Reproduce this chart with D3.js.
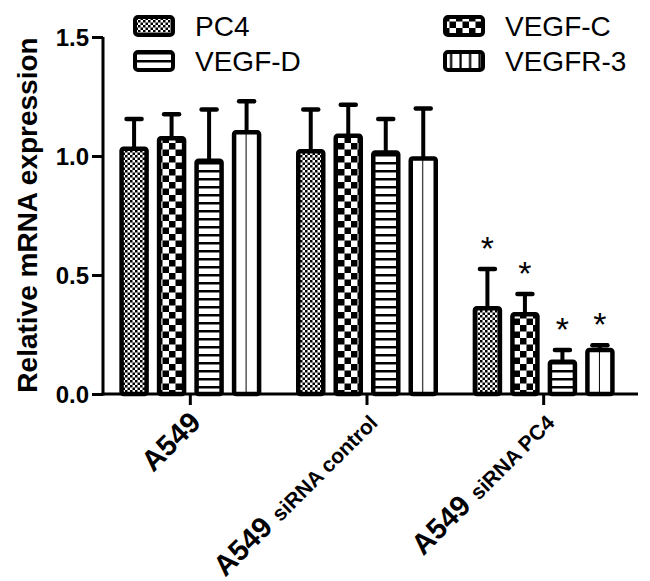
<!DOCTYPE html>
<html>
<head>
<meta charset="utf-8">
<script src="https://cdn.jsdelivr.net/npm/d3@7"></script>
<style>
    body { margin: 0; background: #fff; }
    text { font-family: "Liberation Sans", Arial, sans-serif; fill: #000; }
</style>
</head>
<body>
<div id="chart"></div>
<script>
var groupMain = ['A549', 'A549', 'A549'];
var groupSub = ['', 'siRNA control', 'siRNA PC4'];
var series = ['PC4', 'VEGF-C', 'VEGF-D', 'VEGFR-3'];

// mean and SD per group, in group order
var pc4 = [1.03, 1.02, 0.36];
var vegfc = [1.075, 1.085, 0.335];
var vegfd = [0.98, 1.015, 0.135];
var vegfr3 = [1.10, 0.99, 0.185];

var pc4Err = [0.125, 0.175, 0.165];
var vegfcErr = [0.10, 0.13, 0.085];
var vegfdErr = [0.215, 0.14, 0.05];
var vegfr3Err = [0.13, 0.21, 0.02];

var starred = [false, false, true];
var yTicks = [0, 0.5, 1.0, 1.5];

var means = [pc4, vegfc, vegfd, vegfr3];
var errs = [pc4Err, vegfcErr, vegfdErr, vegfr3Err];
var fills = ['url(#fine)', 'url(#check)', 'url(#hstripe)', 'url(#vstripe)'];
var legendFills = ['url(#fine)', 'url(#check)', 'url(#hstripe)', 'url(#vstripeLeg)'];

var width = 650, height = 581;

var svg = d3.select('#chart')
    .append('svg')
    .attr('width', width)
    .attr('height', height);

// patterns
var defs = svg.append('defs');

var p = defs.append('pattern').attr('id', 'fine')
    .attr('patternUnits', 'userSpaceOnUse').attr('width', 5).attr('height', 5);
p.append('rect').attr('width', 5).attr('height', 5).attr('fill', '#fff');
p.append('rect').attr('width', 2.5).attr('height', 2.5).attr('fill', '#000');
p.append('rect').attr('x', 2.5).attr('y', 2.5).attr('width', 2.5).attr('height', 2.5).attr('fill', '#000');

p = defs.append('pattern').attr('id', 'check')
    .attr('patternUnits', 'userSpaceOnUse').attr('width', 13).attr('height', 13);
p.append('rect').attr('width', 13).attr('height', 13).attr('fill', '#fff');
p.append('rect').attr('width', 6.5).attr('height', 6.5).attr('fill', '#000');
p.append('rect').attr('x', 6.5).attr('y', 6.5).attr('width', 6.5).attr('height', 6.5).attr('fill', '#000');

p = defs.append('pattern').attr('id', 'hstripe')
    .attr('patternUnits', 'userSpaceOnUse').attr('width', 8).attr('height', 8)
    .attr('y', 394);
p.append('rect').attr('width', 8).attr('height', 8).attr('fill', '#fff');
p.append('rect').attr('width', 8).attr('height', 2.5).attr('fill', '#000');

p = defs.append('pattern').attr('id', 'vstripe')
    .attr('patternUnits', 'objectBoundingBox')
    .attr('patternContentUnits', 'userSpaceOnUse')
    .attr('width', 0.5).attr('height', 1);
p.append('rect').attr('width', 20).attr('height', 600).attr('fill', '#fff');
p.append('rect').attr('x', 11.5).attr('width', 2.2).attr('height', 600).attr('fill', '#000');

p = defs.append('pattern').attr('id', 'vstripeLeg')
    .attr('patternUnits', 'userSpaceOnUse').attr('width', 9.5).attr('height', 40);
p.append('rect').attr('width', 9.5).attr('height', 40).attr('fill', '#fff');
p.append('rect').attr('x', 7).attr('width', 2.2).attr('height', 40).attr('fill', '#000');

// scales
var y = d3.scaleLinear().domain([0, 1.5]).range([394, 37]);

var x0 = d3.scaleBand()
    .domain(d3.range(groupMain.length))
    .range([102, 632]);

var x1 = d3.scaleBand()
    .domain(series)
    .range([-75, 75]);

var barW = 25;

// axes
var yAxis = d3.axisLeft(y)
    .tickValues(yTicks)
    .tickFormat(d3.format('.1f'))
    .tickSize(11)
    .tickSizeOuter(0)
    .tickPadding(3);

var gy = svg.append('g')
    .attr('transform', 'translate(103,0)')
    .call(yAxis);
gy.select('.domain').attr('stroke-width', 3).attr('d', 'M0,' + y(1.5) + 'V' + (y(0) + 1.5));
gy.selectAll('.tick line').attr('stroke-width', 3);
gy.selectAll('.tick text')
    .style('font-family', '"Liberation Sans", Arial, sans-serif')
    .style('font-size', '24px')
    .style('font-weight', 'bold')
    .attr('dy', '0.36em');

var xAxis = d3.axisBottom(x0)
    .tickSize(11)
    .tickSizeOuter(0)
    .tickFormat('');

var gx = svg.append('g')
    .attr('transform', 'translate(0,394)')
    .call(xAxis);
gx.select('.domain').attr('stroke-width', 3).attr('d', 'M101.5,0H638');
gx.selectAll('.tick line').attr('stroke-width', 3);

// bars
var rows = [];
groupMain.forEach(function(g, gi) {
    series.forEach(function(s, si) {
        rows.push({g: gi, s: s, si: si, v: means[si][gi], e: errs[si][gi]});
    });
});

function barX(d) {
    return x0(d.g) + x0.bandwidth() / 2 + x1(d.s) + x1.bandwidth() / 2;
}

var bars = svg.append('g').selectAll('.bar')
    .data(rows).enter()
    .append('g')
    .attr('class', 'bar');

bars.append('line')
    .attr('x1', barX).attr('x2', barX)
    .attr('y1', function(d) { return y(d.v); })
    .attr('y2', function(d) { return y(d.v + d.e); })
    .attr('stroke', '#000')
    .attr('stroke-width', 4);

bars.append('line')
    .attr('x1', function(d) { return barX(d) - 7.5; })
    .attr('x2', function(d) { return barX(d) + 7.5; })
    .attr('y1', function(d) { return y(d.v + d.e); })
    .attr('y2', function(d) { return y(d.v + d.e); })
    .attr('stroke', '#000')
    .attr('stroke-width', 4.5)
    .attr('stroke-linecap', 'round');

bars.append('rect')
    .attr('x', function(d) { return barX(d) - barW / 2; })
    .attr('y', function(d) { return y(d.v); })
    .attr('width', barW)
    .attr('height', function(d) { return y(0) - y(d.v); })
    .attr('rx', 2)
    .attr('fill', function(d) { return fills[d.si]; })
    .attr('stroke', '#000')
    .attr('stroke-width', 4.5);

bars.filter(function(d) { return starred[d.g]; })
    .append('text')
    .attr('x', barX)
    .attr('y', function(d) { return y(d.v + d.e) - 9; })
    .attr('text-anchor', 'middle')
    .style('font-size', '34px')
    .text('*');

// group labels
var labels = svg.append('g').selectAll('.glabel')
    .data(d3.range(groupMain.length)).enter()
    .append('text')
    .attr('class', 'glabel')
    .attr('transform', function(i) {
        return 'translate(' + (x0(i) + x0.bandwidth() / 2 + 12) + ',424) rotate(-45)';
    })
    .attr('text-anchor', 'end')
    .style('font-weight', 'bold');

labels.append('tspan')
    .style('font-size', '29px')
    .text(function(i) { return groupMain[i]; });

labels.append('tspan')
    .attr('dx', 9)
    .style('font-size', '21px')
    .text(function(i) { return groupSub[i]; });

// y title
svg.append('text')
    .attr('transform', 'translate(37,215) rotate(-90)')
    .attr('text-anchor', 'middle')
    .style('font-size', '28px')
    .style('font-weight', 'bold')
    .text('Relative mRNA expression');

// legend
var legend = svg.append('g').selectAll('.legend')
    .data(series).enter()
    .append('g')
    .attr('class', 'legend')
    .attr('transform', function(d, i) {
        return 'translate(' + (i % 2 ? 443 : 133) + ',' + (15 + Math.floor(i / 2) * 35) + ')';
    });

legend.append('rect')
    .attr('x', 2).attr('y', 2)
    .attr('width', 38).attr('height', 18)
    .attr('rx', 3)
    .attr('fill', function(d, i) { return legendFills[i]; })
    .attr('stroke', '#000')
    .attr('stroke-width', 4);

legend.append('text')
    .attr('x', 62)
    .attr('y', 21)
    .style('font-size', '28px')
    .text(function(d) { return d; });
</script>
</body>
</html>
